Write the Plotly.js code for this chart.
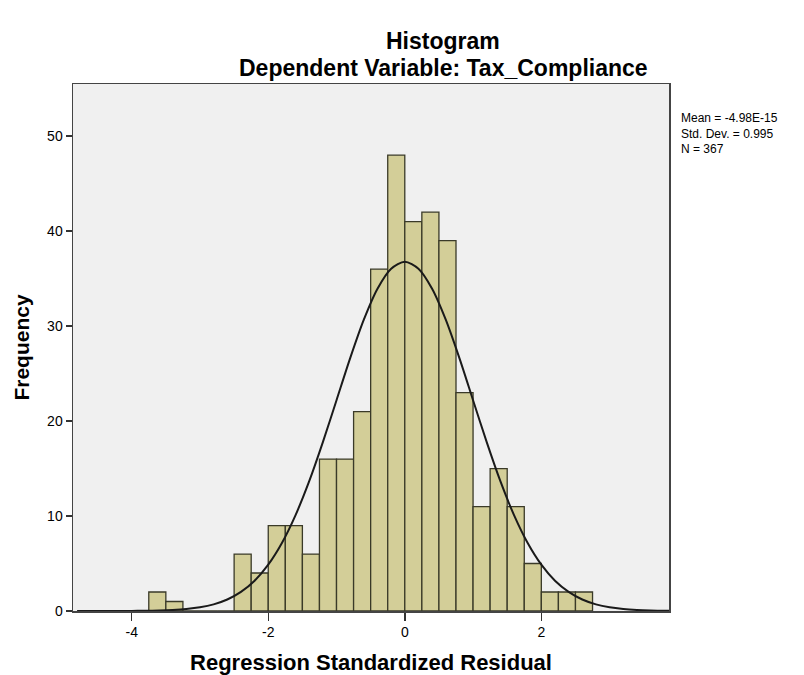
<!DOCTYPE html>
<html>
<head>
<meta charset="utf-8">
<script src="https://cdn.plot.ly/plotly-3.0.1.min.js"></script>
<style>
  html, body { margin: 0; padding: 0; background: #ffffff; }
  #chart { width: 804px; height: 675px; }
</style>
</head>
<body>
<div id="chart"></div>
<script>
// Histogram bins (lower edge of each 0.25-wide bin) and frequencies
var binStart = [-3.75, -3.5, -3.25, -3.0, -2.75, -2.5, -2.25, -2.0, -1.75, -1.5, -1.25, -1.0, -0.75,
                -0.5, -0.25, 0.0, 0.25, 0.5, 0.75, 1.0, 1.25, 1.5, 1.75, 2.0, 2.25, 2.5];
var binWidth = 0.25;
var frequency = [2, 1, 0, 0, 0, 6, 4, 9, 9, 6, 16, 16, 21,
                 36, 48, 41, 42, 39, 23, 11, 15, 11, 5, 2, 2, 2];

// Normal curve overlay
var curveX = [-4.8, -4.4, -4.0, -3.8, -3.6, -3.4, -3.2, -3.0, -2.8, -2.6, -2.4, -2.2, -2.0, -1.8, -1.6, -1.4, -1.2, -1.0, -0.8, -0.6, -0.4, -0.2,
              0.0, 0.2, 0.4, 0.6, 0.8, 1.0, 1.2, 1.4, 1.6, 1.8, 2.0, 2.2, 2.4, 2.6, 2.8, 3.0, 3.2, 3.4, 3.6, 3.87];
var curveY = [0.0, 0.002, 0.01, 0.025, 0.053, 0.107, 0.21, 0.39, 0.70, 1.21, 2.01, 3.19, 4.88, 7.16, 10.10, 13.67, 17.78, 22.20, 26.63, 30.68, 33.94, 36.05,
              36.79, 36.05, 33.94, 30.68, 26.63, 22.20, 17.78, 13.67, 10.10, 7.16, 4.88, 3.19, 2.01, 1.21, 0.70, 0.39, 0.21, 0.107, 0.053, 0.02];

// Tick labels
var xTickVals = [-4, -2, 0, 2];
var xTickText = ['-4', '-2', '0', '2'];
var yTickVals = [0, 10, 20, 30, 40, 50];
var yTickText = ['0', '10', '20', '30', '40', '50'];

// Summary statistics text
var statsLines = ['Mean = -4.98E-15', 'Std. Dev. = 0.995', 'N = 367'];

var binCenter = binStart.map(function (b) { return b + binWidth / 2; });

var FONT = 'Liberation Sans, Arial, sans-serif';

var traces = [
  {
    type: 'bar',
    x: binCenter,
    y: frequency,
    width: binWidth,
    marker: { color: '#d3ce98', line: { color: '#3a3a28', width: 1.3 } },
    hoverinfo: 'x+y',
    showlegend: false
  },
  {
    type: 'scatter',
    mode: 'lines',
    x: curveX,
    y: curveY,
    line: { color: '#1a1a1a', width: 2, shape: 'spline', smoothing: 0.8 },
    hoverinfo: 'skip',
    showlegend: false
  }
];

var plotTop = 84, plotH = 675 - 84 - 64, plotL = 73, plotW = 804 - 73 - 135;
function py(pix) { return 1 - (pix - plotTop) / plotH; }
function px(pix) { return (pix - plotL) / plotW; }

var annotations = [
  {
    text: '<b>Histogram</b>',
    xref: 'paper', yref: 'paper',
    x: px(443), y: py(41), xanchor: 'center', yanchor: 'middle',
    showarrow: false,
    font: { family: FONT, size: 23, color: '#000000' }
  },
  {
    text: '<b>Dependent Variable: Tax_Compliance</b>',
    xref: 'paper', yref: 'paper',
    x: px(443), y: py(68), xanchor: 'center', yanchor: 'middle',
    showarrow: false,
    font: { family: FONT, size: 23, color: '#000000' }
  },
  {
    text: statsLines.join('<br>'),
    xref: 'paper', yref: 'paper',
    x: px(679), y: py(109), xanchor: 'left', yanchor: 'top',
    align: 'left',
    showarrow: false,
    font: { family: FONT, size: 12, color: '#000000' }
  }
];

var layout = {
  width: 804,
  height: 675,
  margin: { l: 73, r: 135, t: 84, b: 64, pad: 0 },
  paper_bgcolor: '#ffffff',
  plot_bgcolor: '#f0f0f0',
  font: { family: FONT, color: '#000000', size: 14 },
  bargap: 0,
  xaxis: {
    range: [-4.86, 3.87],
    tickmode: 'array',
    tickvals: xTickVals,
    ticktext: xTickText,
    ticks: 'outside',
    ticklen: 8,
    tickwidth: 1.5,
    tickcolor: '#333333',
    showline: true,
    linecolor: '#444444',
    linewidth: 1.5,
    mirror: true,
    showgrid: false,
    zeroline: false,
    tickfont: { family: FONT, size: 14, color: '#000000' },
    title: { text: '<b>Regression Standardized Residual</b>', font: { family: FONT, size: 22, color: '#000000' }, standoff: 16 }
  },
  yaxis: {
    range: [0, 55.5],
    tickmode: 'array',
    tickvals: yTickVals,
    ticktext: yTickText,
    ticks: 'outside',
    ticklen: 6,
    tickwidth: 1.5,
    tickcolor: '#333333',
    showline: true,
    linecolor: '#444444',
    linewidth: 1.5,
    mirror: true,
    showgrid: false,
    zeroline: false,
    tickfont: { family: FONT, size: 14, color: '#000000' },
    title: { text: '<b>Frequency</b>', font: { family: FONT, size: 21, color: '#000000' }, standoff: 12 }
  },
  annotations: annotations
};

Plotly.newPlot('chart', traces, layout, { displayModeBar: false, staticPlot: true });
</script>
</body>
</html>
